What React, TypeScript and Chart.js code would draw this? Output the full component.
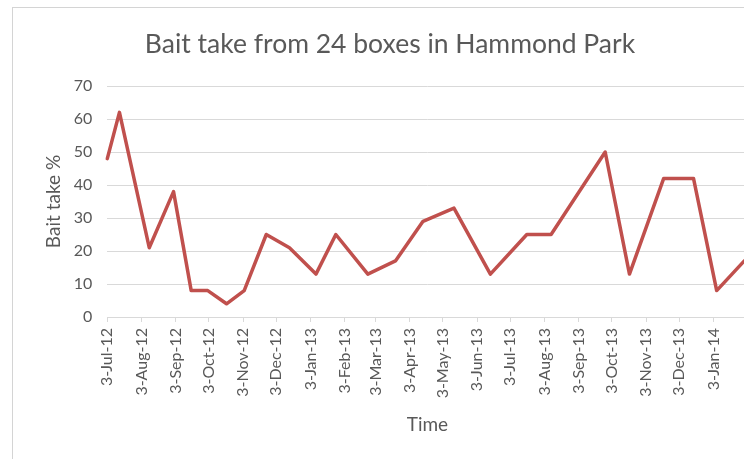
import React, { useEffect, useRef } from "react";
import { Chart, registerables } from "chart.js";

Chart.register(...registerables);

const startDate = "2012-07-03";
const axisEndDate = "2014-02-03";
const pointDates = [
  "2012-07-03", "2012-07-14", "2012-08-10", "2012-09-01", "2012-09-17",
  "2012-10-02", "2012-10-19", "2012-11-04", "2012-11-24", "2012-12-15",
  "2013-01-08", "2013-01-26", "2013-02-24", "2013-03-21", "2013-04-15",
  "2013-05-13", "2013-06-15", "2013-07-18", "2013-08-09", "2013-09-27",
  "2013-10-19", "2013-11-19", "2013-12-16", "2014-01-06", "2014-01-31",
];
const baitTake = [
  48, 62, 21, 38, 8,
  8, 4, 8, 25, 21,
  13, 25, 13, 17, 29,
  33, 13, 25, 25, 50,
  13, 42, 42, 8, 17,
];
const tickDates = [
  "2012-07-03", "2012-08-03", "2012-09-03", "2012-10-03", "2012-11-03",
  "2012-12-03", "2013-01-03", "2013-02-03", "2013-03-03", "2013-04-03",
  "2013-05-03", "2013-06-03", "2013-07-03", "2013-08-03", "2013-09-03",
  "2013-10-03", "2013-11-03", "2013-12-03", "2014-01-03",
];
const tickLabels = [
  "3-Jul-12", "3-Aug-12", "3-Sep-12", "3-Oct-12", "3-Nov-12",
  "3-Dec-12", "3-Jan-13", "3-Feb-13", "3-Mar-13", "3-Apr-13",
  "3-May-13", "3-Jun-13", "3-Jul-13", "3-Aug-13", "3-Sep-13",
  "3-Oct-13", "3-Nov-13", "3-Dec-13", "3-Jan-14",
];
const yTicks = [0, 10, 20, 30, 40, 50, 60, 70];

const dayOf = (d: string) => (Date.parse(d) - Date.parse(startDate)) / 86400000;

const FONT = "Lato, 'Open Sans', sans-serif";
const GREY = "#595959";
const GRID = "#d9d9d9";

export default function App() {
  const ref = useRef<HTMLCanvasElement | null>(null);
  useEffect(() => {
    if (!ref.current) return;
    const tickDays = tickDates.map(dayOf);
    const chart = new Chart(ref.current, {
      type: "line",
      data: {
        datasets: [
          {
            label: "Bait take %",
            data: pointDates.map((d, i) => ({ x: dayOf(d), y: baitTake[i] })),
            borderColor: "#c0504d",
            borderWidth: 3.5,
            pointRadius: 0,
            tension: 0,
            clip: 3,
            borderJoinStyle: "round",
            borderCapStyle: "round",
          },
        ],
      },
      options: {
        animation: false,
        responsive: false,
        maintainAspectRatio: false,
        layout: { padding: { left: 19.4, right: 19.4, top: 0, bottom: 0 } },
        plugins: {
          legend: { display: false },
          tooltip: { enabled: false },
          title: {
            display: true,
            text: "Bait take from 24 boxes in Hammond Park",
            color: GREY,
            font: { family: FONT, size: 26.5, weight: "normal" },
            padding: { top: 20.1, bottom: 26.1 },
          },
        },
        scales: {
          x: {
            type: "linear",
            min: dayOf(startDate),
            max: dayOf(axisEndDate),
            afterBuildTicks: (scale: any) => {
              scale.ticks = tickDays.map((v) => ({ value: v }));
            },
            afterFit: (scale: any) => {
              scale.height = 130;
            },
            ticks: {
              autoSkip: false,
              minRotation: 90,
              maxRotation: 90,
              color: GREY,
              padding: 6,
              font: { family: FONT, size: 16 },
              callback: (_v: any, i: number) => tickLabels[i],
            },
            grid: {
              drawOnChartArea: false,
              drawTicks: true,
              tickLength: 5,
              color: GRID,
            },
            border: { color: GRID, width: 1 },
            title: {
              display: true,
              text: "Time",
              color: GREY,
              font: { family: FONT, size: 19 },
              padding: { top: 10, bottom: 10.6 },
            },
          },
          y: {
            min: 0,
            max: 70,
            afterBuildTicks: (scale: any) => {
              scale.ticks = yTicks.map((v) => ({ value: v }));
            },
            afterFit: (scale: any) => {
              scale.width = 74.9;
            },
            ticks: {
              color: GREY,
              padding: 15,
              font: { family: FONT, size: 16 },
            },
            grid: { color: GRID, drawTicks: false },
            border: { display: false },
            title: {
              display: true,
              text: "Bait take %",
              color: GREY,
              font: { family: FONT, size: 19 },
              padding: { top: 10.2, bottom: 0 },
            },
          },
        },
      },
    });
    return () => chart.destroy();
  }, []);

  return (
    <div
      style={{
        position: "fixed",
        left: 0,
        top: 0,
        width: 744,
        height: 459,
        overflow: "hidden",
        background: "#fff",
      }}
    >
      <div
        style={{
          position: "absolute",
          left: 12,
          top: 7,
          width: 800,
          height: 520,
          border: "1px solid #d4d4d4",
        }}
      >
        <canvas ref={ref} width={754} height={439} style={{ display: "block" }} />
      </div>
    </div>
  );
}
